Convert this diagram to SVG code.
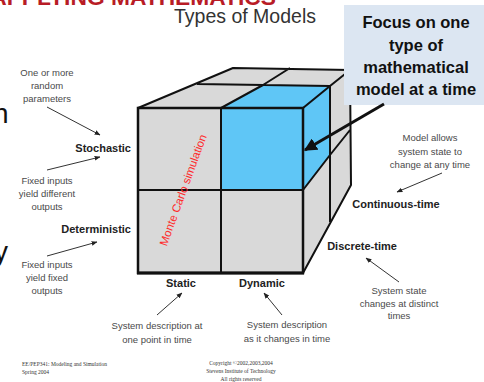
<svg xmlns="http://www.w3.org/2000/svg" width="484" height="382" viewBox="0 0 484 382">
<style>
.desc{font-family:"Liberation Sans",Arial,sans-serif;font-size:9.5px;fill:#4a4a4a;text-anchor:middle}
.lbl{font-family:"Liberation Sans",Arial,sans-serif;font-size:11px;font-weight:bold;fill:#222}
.foot{font-family:"Liberation Serif","Times New Roman",serif;font-size:5.5px;fill:#333}
.call{font-family:"Liberation Sans",Arial,sans-serif;font-size:16.5px;font-weight:bold;fill:#111;text-anchor:middle}
.edge{fill:none;stroke:#111;stroke-width:2;stroke-linejoin:round}
.conn{fill:none;stroke:#333;stroke-width:1;marker-end:url(#ah)}
.grey{fill:#d9d9d9}
.blue{fill:#5fc6f6}
</style>
<defs>
<marker id="ah" viewBox="0 0 10 10" refX="9" refY="5" markerWidth="6" markerHeight="6" markerUnits="userSpaceOnUse" orient="auto"><path d="M0,1 L10,5 L0,9 z" fill="#222"/></marker>
<marker id="bigah" viewBox="0 0 10 10" refX="9" refY="5" markerWidth="13" markerHeight="13" markerUnits="userSpaceOnUse" orient="auto"><path d="M0,0 L10,5 L0,10 z" fill="#111"/></marker>
</defs>
<rect width="484" height="382" fill="#fff"/>

<!-- slide text fragments -->
<text x="276" y="5" font-family="Liberation Sans,Arial,sans-serif" font-size="22.8" font-weight="bold" fill="#b81c26" text-anchor="end">APPLYING MATHEMATICS</text>
<text x="-7" y="123" font-family="Liberation Sans,Arial,sans-serif" font-size="28" fill="#111">n</text>
<text x="-6" y="261" font-family="Liberation Sans,Arial,sans-serif" font-size="28" fill="#111">y</text>

<g id="title"><text x="245" y="23" font-family="Liberation Sans,Arial,sans-serif" font-size="19.5" fill="#333" text-anchor="middle">Types of Models</text></g>

<!-- cube -->
<g id="cube">
  <polygon class="grey" points="138,108 233,68 350,70 303,108"/>
  <polygon class="blue" points="221,108 303,108 330,86 263,85"/>
  <polygon class="grey" points="303,108 350,70 351,185 303,273"/>
  <polygon class="blue" points="303,108 330,86 330,155 303,190"/>
  <rect class="grey" x="138" y="108" width="165" height="165"/>
  <rect class="blue" x="221" y="108" width="82" height="82"/>
  <path class="edge" d="M138,108 L233,68 L350,70 M197,84 L330,86 M221,108 L263,85 L290,68"/>
  <path class="edge" d="M303,108 L330,86 L350,70 L351,185 L303,273 M330,86 L330,222 M303,190 L330,155 L350,130"/>
  <path class="edge" d="M138,190 H303 M221,108 V273"/>
  <rect x="138" y="108" width="165" height="165" fill="none" stroke="#111" stroke-width="2.5"/>
  <path d="M137,273 H304" stroke="#111" stroke-width="3.2"/>
  <text x="183" y="194" transform="rotate(-70 183 190)" font-family="Liberation Sans,Arial,sans-serif" font-size="11.5" fill="#ff2b2b" text-anchor="middle">Monte Carlo simulation</text>
</g>

<!-- callout -->
<g id="callout">
  <rect x="344" y="5" width="140" height="100" fill="#dce6f2"/>
  <text class="call" x="416" y="28">Focus on one</text>
  <text class="call" x="416" y="50.5">type of</text>
  <text class="call" x="416" y="73">mathematical</text>
  <text class="call" x="416" y="95">model at a time</text>
</g>

<!-- labels -->
<g id="stochastic">
  <text class="desc" x="47" y="76">One or more</text>
  <text class="desc" x="47" y="89">random</text>
  <text class="desc" x="47" y="102">parameters</text>
  <text class="lbl" x="131" y="152" text-anchor="end">Stochastic</text>
  <text class="desc" x="47" y="184">Fixed inputs</text>
  <text class="desc" x="47" y="197">yield different</text>
  <text class="desc" x="47" y="210">outputs</text>
</g>
<g id="deterministic">
  <text class="lbl" x="131" y="233" text-anchor="end">Deterministic</text>
  <text class="desc" x="47" y="268">Fixed inputs</text>
  <text class="desc" x="47" y="281">yield fixed</text>
  <text class="desc" x="47" y="294">outputs</text>
</g>
<g id="static">
  <text class="lbl" x="181" y="287" text-anchor="middle">Static</text>
  <text class="desc" x="157" y="329">System description at</text>
  <text class="desc" x="157" y="343">one point in time</text>
</g>
<g id="dynamic">
  <text class="lbl" x="262" y="287" text-anchor="middle">Dynamic</text>
  <text class="desc" x="287" y="328">System description</text>
  <text class="desc" x="287" y="342">as it changes in time</text>
</g>
<g id="continuous">
  <text class="desc" x="430" y="141">Model allows</text>
  <text class="desc" x="430" y="155">system state to</text>
  <text class="desc" x="430" y="168">change at any time</text>
  <text class="lbl" x="396" y="208" text-anchor="middle">Continuous-time</text>
</g>
<g id="discrete">
  <text class="lbl" x="362" y="250" text-anchor="middle">Discrete-time</text>
  <text class="desc" x="399" y="294">System state</text>
  <text class="desc" x="399" y="307">changes at distinct</text>
  <text class="desc" x="399" y="319">times</text>
</g>

<!-- footer -->
<g id="footer">
  <text class="foot" x="22" y="366">EE/PEP341: Modeling and Simulation</text>
  <text class="foot" x="22" y="374">Spring 2004</text>
  <text class="foot" x="241" y="365" text-anchor="middle">Copyright ©2002,2003,2004</text>
  <text class="foot" x="241" y="373" text-anchor="middle">Stevens Institute of Technology</text>
  <text class="foot" x="241" y="381" text-anchor="middle">All rights reserved</text>
</g>

<!-- connectors -->
<g id="connectors">
  <line class="conn" x1="47" y1="107" x2="100" y2="135"/>
  <line class="conn" x1="47" y1="170" x2="100" y2="157"/>
  <line class="conn" x1="47" y1="256" x2="97" y2="242"/>
  <line class="conn" x1="157" y1="315" x2="182" y2="293"/>
  <line class="conn" x1="282" y1="315" x2="264" y2="293"/>
  <line class="conn" x1="442" y1="173" x2="397" y2="192"/>
  <line class="conn" x1="399" y1="282" x2="366" y2="258"/>
  <line x1="384" y1="104" x2="305" y2="150" stroke="#111" stroke-width="3" marker-end="url(#bigah)"/>
</g>
</svg>
